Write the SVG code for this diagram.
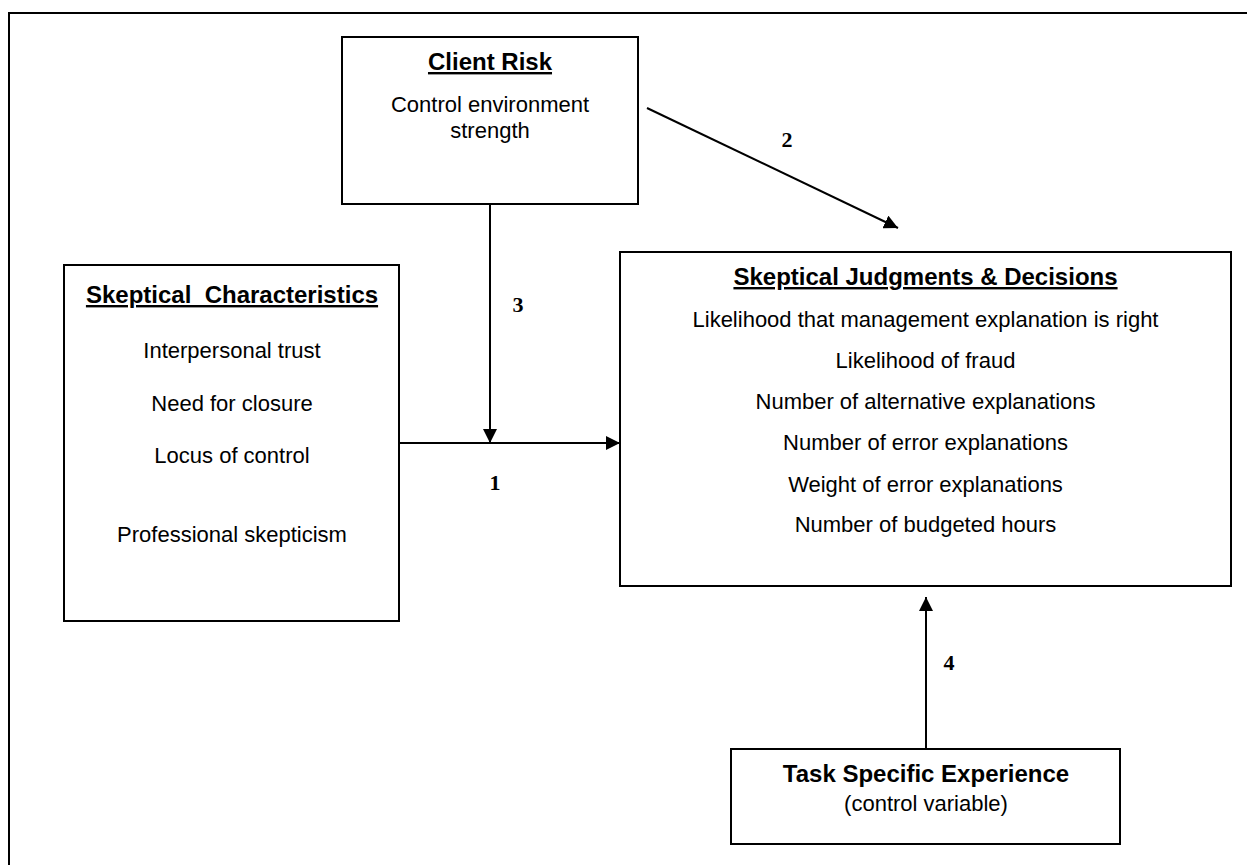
<svg xmlns="http://www.w3.org/2000/svg" width="1247" height="865" viewBox="0 0 1247 865">
<style>
.box{fill:#fff;stroke:#000;stroke-width:2}
.t{font-family:"Liberation Sans",Arial,sans-serif;font-size:22px;fill:#000;text-anchor:middle}
.h{font-family:"Liberation Sans",Arial,sans-serif;font-size:24px;font-weight:bold;fill:#000;text-anchor:middle}
.u{text-decoration:underline}
.n{font-family:"Liberation Serif","Times New Roman",serif;font-size:22px;font-weight:bold;fill:#000;text-anchor:middle}
.c{stroke:#000;stroke-width:2;fill:none}
</style>
<defs>
<marker id="ah" viewBox="0 0 14 14" refX="14" refY="7" markerWidth="14" markerHeight="14" markerUnits="userSpaceOnUse" orient="auto">
<path d="M0,0 L14,7 L0,14 z" fill="#000"/>
</marker>
</defs>
<rect x="0" y="0" width="1247" height="865" fill="#fff"/>
<rect id="frame" x="9" y="13" width="1250" height="870" fill="none" stroke="#000" stroke-width="2"/>
<g id="connectors">
<line class="c" x1="647" y1="108" x2="898" y2="228" marker-end="url(#ah)"/>
<line class="c" x1="490" y1="204" x2="490" y2="443" marker-end="url(#ah)"/>
<line class="c" x1="399" y1="443" x2="620" y2="443" marker-end="url(#ah)"/>
<line class="c" x1="926" y1="749" x2="926" y2="597" marker-end="url(#ah)"/>
<text class="n" x="495" y="490">1</text>
<text class="n" x="787" y="147">2</text>
<text class="n" x="518" y="312">3</text>
<text class="n" x="949" y="670">4</text>
</g>
<g id="client-risk">
<rect class="box" x="342" y="37" width="296" height="167"/>
<text class="h u" x="490" y="70">Client Risk</text>
<text class="t" x="490" y="112">Control environment</text>
<text class="t" x="490" y="138">strength</text>
</g>
<g id="skeptical-characteristics">
<rect class="box" x="64" y="265" width="335" height="356"/>
<text class="h u" x="232" y="303" xml:space="preserve">Skeptical  Characteristics</text>
<text class="t" x="232" y="358">Interpersonal trust</text>
<text class="t" x="232" y="411">Need for closure</text>
<text class="t" x="232" y="463">Locus of control</text>
<text class="t" x="232" y="542">Professional skepticism</text>
</g>
<g id="skeptical-judgments">
<rect class="box" x="620" y="252" width="611" height="334"/>
<text class="h u" x="925.5" y="285">Skeptical Judgments &amp; Decisions</text>
<text class="t" x="925.5" y="327">Likelihood that management explanation is right</text>
<text class="t" x="925.5" y="368">Likelihood of fraud</text>
<text class="t" x="925.5" y="409">Number of alternative explanations</text>
<text class="t" x="925.5" y="450">Number of error explanations</text>
<text class="t" x="925.5" y="492">Weight of error explanations</text>
<text class="t" x="925.5" y="532">Number of budgeted hours</text>
</g>
<g id="task-experience">
<rect class="box" x="731" y="749" width="389" height="95"/>
<text class="h" x="926" y="782">Task Specific Experience</text>
<text class="t" x="926" y="811">(control variable)</text>
</g>
</svg>
